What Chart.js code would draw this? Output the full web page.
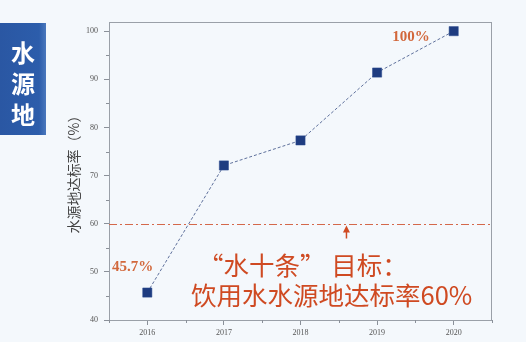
<!DOCTYPE html>
<html>
<head>
<meta charset="utf-8">
<script src="https://cdn.jsdelivr.net/npm/chart.js@4/dist/chart.umd.min.js"></script>
<style>
  html, body { margin: 0; padding: 0; background: #f4f8fc; }
  #wrap { width: 526px; height: 342px; position: relative; }
</style>
</head>
<body>
<div id="wrap"><canvas id="waterChart" width="526" height="342"></canvas></div>
<script>
// 水源地达标率 data
const years = [2016, 2017, 2018, 2019, 2020];
const rates = [45.7, 72.1, 77.3, 91.4, 100];
const yTicks = [40, 50, 60, 70, 80, 90, 100];
const targetRate = 60;

const RED = "#cf4a22";
const SERIF = "'Liberation Serif', 'DejaVu Serif', serif";
const CJK = "'Noto Sans CJK SC', 'Noto Sans', sans-serif";

/**
 * Draws background, frame, minor ticks, target line and notes
 */
const decorPlugin = {
  id: "decor",
  beforeDraw: (chart) => {
    const { ctx, width, height } = chart;
    ctx.save();
    ctx.fillStyle = "#f4f8fc";
    ctx.fillRect(0, 0, width, height);

    // side tag
    const grad = ctx.createLinearGradient(0, 0, 46, 0);
    grad.addColorStop(0, "#2a57a3");
    grad.addColorStop(0.85, "#2c5dab");
    grad.addColorStop(1, "#4a78bd");
    ctx.fillStyle = grad;
    ctx.fillRect(0, 23, 46, 112);
    ctx.fillStyle = "#ffffff";
    ctx.font = "bold 24px " + CJK;
    ctx.textAlign = "center";
    ctx.textBaseline = "middle";
    ["水", "源", "地"].forEach((ch, i) => ctx.fillText(ch, 23, 53 + i * 31));
    ctx.restore();
  },
  afterDatasetsDraw: (chart) => {
    const { ctx, chartArea: a, scales } = chart;
    const x = scales.x;
    const y = scales.y;
    ctx.save();

    // frame
    ctx.strokeStyle = "#9aa0a8";
    ctx.lineWidth = 1;
    ctx.strokeRect(a.left + 0.5, a.top + 0.5, a.right - a.left - 1, a.bottom - a.top);

    // minor ticks
    ctx.strokeStyle = "#8a9099";
    ctx.beginPath();
    for (let v = 45; v < 100; v += 10) {
      const py = Math.round(y.getPixelForValue(v)) + 0.5;
      ctx.moveTo(a.left - 3, py);
      ctx.lineTo(a.left, py);
    }
    for (let v = 2015.5; v <= 2020.5; v += 0.5) {
      if (Number.isInteger(v)) continue;
      const px = Math.round(x.getPixelForValue(v)) + 0.5;
      ctx.moveTo(px, a.bottom);
      ctx.lineTo(px, a.bottom + 3);
    }
    ctx.stroke();

    // target line 60%
    const ty = Math.round(y.getPixelForValue(targetRate)) + 0.5;
    ctx.strokeStyle = "#d4684a";
    ctx.setLineDash([8, 3, 2, 3]);
    ctx.beginPath();
    ctx.moveTo(a.left, ty);
    ctx.lineTo(a.right, ty);
    ctx.stroke();
    ctx.setLineDash([]);

    // arrow to target line
    const ax = x.getPixelForValue(2018.6);
    ctx.strokeStyle = RED;
    ctx.fillStyle = RED;
    ctx.lineWidth = 1.5;
    ctx.beginPath();
    ctx.moveTo(ax, ty + 14);
    ctx.lineTo(ax, ty + 6);
    ctx.stroke();
    ctx.beginPath();
    ctx.moveTo(ax, ty + 1);
    ctx.lineTo(ax - 3.5, ty + 8);
    ctx.lineTo(ax + 3.5, ty + 8);
    ctx.closePath();
    ctx.fill();

    // point notes
    ctx.fillStyle = "#d2683c";
    ctx.font = "bold 15px " + SERIF;
    ctx.textBaseline = "middle";
    ctx.textAlign = "right";
    ctx.fillText("100%", x.getPixelForValue(years[4]) - 24, y.getPixelForValue(rates[4]) + 6);
    ctx.textAlign = "left";
    ctx.fillText("45.7%", a.left + 3, y.getPixelForValue(rates[0]) - 25);

    // target note
    ctx.fillStyle = RED;
    ctx.font = "25.5px " + CJK;
    ctx.fillText("“水十条” 目标：", 198, 265);
    ctx.fillText("饮用水水源地达标率60%", 191, 295);
    ctx.restore();
  },
};

const ctx = document.getElementById("waterChart").getContext("2d");

new Chart(ctx, {
  type: "line",
  data: {
    datasets: [
      {
        label: "水源地达标率",
        data: years.map((yr, i) => ({ x: yr, y: rates[i] })),
        borderColor: "#5f719c",
        borderWidth: 1,
        borderDash: [3, 2],
        pointStyle: "rect",
        pointRadius: 6.5,
        pointBackgroundColor: "#1e3c80",
        pointBorderColor: "#2a4a8e",
        pointBorderWidth: 0.5,
        tension: 0,
      },
    ],
  },
  options: {
    responsive: false,
    animation: false,
    layout: { padding: { left: 61, top: 22, right: 34, bottom: 2 } },
    plugins: {
      legend: { display: false },
      tooltip: { enabled: false },
    },
    scales: {
      x: {
        type: "linear",
        min: 2015.5,
        max: 2020.5,
        afterBuildTicks: (scale) => {
          scale.ticks = years.map((v) => ({ value: v }));
        },
        afterFit: (scale) => {
          scale.height = 20;
        },
        grid: { drawOnChartArea: false, tickLength: 5, color: "#8a9099" },
        border: { color: "#8a9099" },
        ticks: {
          padding: 3,
          maxRotation: 0,
          color: "#555",
          font: { family: SERIF, size: 8 },
          callback: (v) => String(v),
        },
      },
      y: {
        min: 40,
        max: 101.9,
        afterBuildTicks: (scale) => {
          scale.ticks = yTicks.map((v) => ({ value: v }));
        },
        afterFit: (scale) => {
          scale.width = 48;
        },
        grid: { drawOnChartArea: false, tickLength: 5, color: "#8a9099" },
        border: { color: "#8a9099" },
        ticks: {
          padding: 6,
          color: "#555",
          font: { family: SERIF, size: 8 },
        },
        title: {
          display: true,
          text: "水源地达标率（%）",
          color: "#444",
          padding: { top: 4, bottom: 0 },
          font: { family: CJK, size: 14 },
        },
      },
    },
  },
  plugins: [decorPlugin],
});
</script>
</body>
</html>
